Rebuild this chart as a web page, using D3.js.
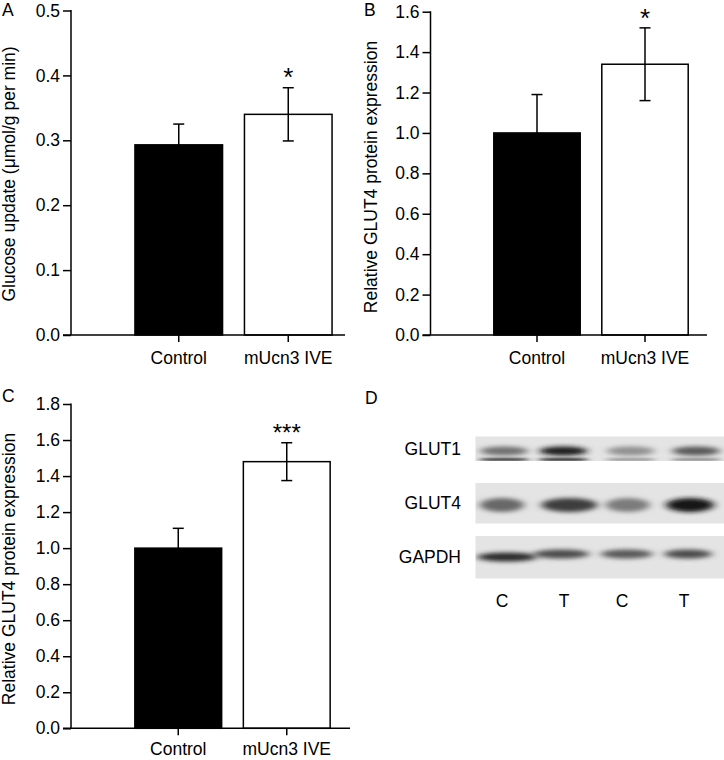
<!DOCTYPE html>
<html>
<head>
<meta charset="utf-8">
<script src="https://cdn.jsdelivr.net/npm/d3@7/dist/d3.min.js"></script>
<style>
  html, body { margin: 0; padding: 0; background: #fff; }
  svg { display: block; font-family: "Liberation Sans", Arial, sans-serif; }
</style>
</head>
<body>
<svg id="chart" width="724" height="760"></svg>
<script>
// ---------- data ----------
const categories = ["Control", "mUcn3 IVE"];

const glucoseMeans = [0.293, 0.340];
const glucoseErrors = [0.032, 0.041];
const glucoseTicks = [0.0, 0.1, 0.2, 0.3, 0.4, 0.5];
const glucoseSig = ["", "*"];

const glut4MeansB = [1.0, 1.34];
const glut4ErrorsB = [0.19, 0.18];
const glut4TicksB = [0.0, 0.2, 0.4, 0.6, 0.8, 1.0, 1.2, 1.4, 1.6];
const glut4SigB = ["", "*"];

const glut4MeansC = [1.0, 1.48];
const glut4ErrorsC = [0.11, 0.105];
const glut4TicksC = [0.0, 0.2, 0.4, 0.6, 0.8, 1.0, 1.2, 1.4, 1.6, 1.8];
const glut4SigC = ["", "***"];

// western blot (panel D): relative band darkness per lane
const blotLanes = ["C", "T", "C", "T"];
const blotProteins = ["GLUT1", "GLUT4", "GAPDH"];
const glut1Upper = [0.5, 0.92, 0.35, 0.62];
const glut1Lower = [0.75, 0.8, 0.3, 0.35];
const glut4Bands = [0.55, 0.75, 0.45, 0.95];
const gapdhBands = [0.85, 0.68, 0.62, 0.68];

// ---------- drawing ----------
const svg = d3.select("#chart");
const FS = 17.5;

function barPanel(cfg) {
  const g = svg.append("g");
  const y = d3.scaleLinear().domain(cfg.domain).range([cfg.y0, cfg.yTop]);
  const x = d3.scaleBand().domain(categories)
    .range(cfg.xRange).paddingInner(0.2).paddingOuter(0.1);

  // bars
  g.selectAll("rect.bar").data(cfg.means).join("rect")
    .attr("x", (d, i) => x(categories[i]))
    .attr("width", x.bandwidth())
    .attr("y", d => y(d))
    .attr("height", d => y(0) - y(d))
    .attr("fill", (d, i) => i === 0 ? "#000" : "#fff")
    .attr("stroke", "#000")
    .attr("stroke-width", 1.5);

  // error bars
  const cap = 5.5;
  cfg.means.forEach((m, i) => {
    const cx = x(categories[i]) + x.bandwidth() / 2;
    const e = cfg.errors[i];
    g.append("line").attr("x1", cx).attr("x2", cx)
      .attr("y1", y(m - e)).attr("y2", y(m + e))
      .attr("stroke", "#000").attr("stroke-width", 1.5);
    [m - e, m + e].forEach(v => {
      g.append("line").attr("x1", cx - cap).attr("x2", cx + cap)
        .attr("y1", y(v)).attr("y2", y(v))
        .attr("stroke", "#000").attr("stroke-width", 1.5);
    });
    if (cfg.sig[i]) {
      g.append("text").attr("x", cx).attr("y", y(m + e) + cfg.sigDy)
        .attr("text-anchor", "middle").attr("font-size", cfg.sigSize)
        .text(cfg.sig[i]);
    }
  });

  // y axis
  const yAxis = d3.axisLeft(y).tickValues(cfg.ticks)
    .tickFormat(d3.format(".1f")).tickSize(8).tickPadding(3);
  const ya = g.append("g").attr("transform", `translate(${cfg.axisX},0)`).call(yAxis);
  ya.select(".domain").remove();
  ya.append("line").attr("x1", 0).attr("x2", 0)
    .attr("y1", y(cfg.domain[1]) - 0.5).attr("y2", y(0))
    .attr("stroke", "#000").attr("stroke-width", 1.5);
  ya.selectAll(".tick line").attr("stroke-width", 1.5);
  ya.selectAll(".tick text").attr("font-size", FS).attr("fill", "#000")
    .attr("font-family", "Liberation Sans, Arial, sans-serif");

  // x axis
  const xAxis = d3.axisBottom(x).tickSize(7).tickPadding(cfg.xPad);
  const xa = g.append("g").attr("transform", `translate(0,${cfg.y0})`).call(xAxis);
  xa.select(".domain").remove();
  xa.append("line").attr("x1", cfg.axisX - 8).attr("x2", cfg.xEnd)
    .attr("y1", 0).attr("y2", 0).attr("stroke", "#000").attr("stroke-width", 1.5);
  xa.selectAll(".tick line").attr("stroke-width", 1.5);
  xa.selectAll(".tick text").attr("font-size", FS).attr("fill", "#000")
    .attr("font-family", "Liberation Sans, Arial, sans-serif");

  // y title
  g.append("text")
    .attr("transform", `translate(${cfg.titleX},${cfg.titleY}) rotate(-90)`)
    .attr("text-anchor", "middle").attr("font-size", FS)
    .text(cfg.title);

  // panel letter
  g.append("text").attr("x", cfg.letterX).attr("y", cfg.letterY)
    .attr("font-size", FS).text(cfg.letter);
}

barPanel({
  means: glucoseMeans, errors: glucoseErrors, ticks: glucoseTicks, sig: glucoseSig,
  domain: [0, 0.5], y0: 335, yTop: 10.5, axisX: 71, xRange: [124, 343], xEnd: 345,
  title: "Glucose update (μmol/g per min)", titleX: 15, titleY: 174,
  letter: "A", letterX: 2, letterY: 16, sigSize: 26, sigDy: -2, xPad: 10
});

barPanel({
  means: glut4MeansB, errors: glut4ErrorsB, ticks: glut4TicksB, sig: glut4SigB,
  domain: [0, 1.6], y0: 335, yTop: 11.7, axisX: 430.5, xRange: [483, 699], xEnd: 707,
  title: "Relative GLUT4 protein expression", titleX: 377, titleY: 177,
  letter: "B", letterX: 364, letterY: 16, sigSize: 26, sigDy: -1, xPad: 10
});

barPanel({
  means: glut4MeansC, errors: glut4ErrorsC, ticks: glut4TicksC, sig: glut4SigC,
  domain: [0, 1.8], y0: 728.3, yTop: 404, axisX: 71, xRange: [124, 341], xEnd: 350,
  title: "Relative GLUT4 protein expression", titleX: 15, titleY: 569,
  letter: "C", letterX: 2, letterY: 402, sigSize: 24, sigDy: -2, xPad: 7.5
});

// ---------- panel D: western blot ----------
const defs = svg.append("defs");
defs.append("filter").attr("id", "blur2").attr("x", "-50%").attr("y", "-100%")
  .attr("width", "200%").attr("height", "300%")
  .append("feGaussianBlur").attr("stdDeviation", "4 2.2");
defs.append("filter").attr("id", "blur1").attr("x", "-50%").attr("y", "-100%")
  .attr("width", "200%").attr("height", "300%")
  .append("feGaussianBlur").attr("stdDeviation", "3 1.2");
const strips = [
  { name: "GLUT1", y0: 436.5, y1: 461 },
  { name: "GLUT4", y0: 483, y1: 523.5 },
  { name: "GAPDH", y0: 536, y1: 578.5 }
];
const stripX0 = 475.5, stripX1 = 724;
const dark = d3.scaleLinear().domain([0, 1]).range(["#d8d8d8", "#0a0a0a"]);
const laneX = d3.scalePoint().domain(d3.range(blotLanes.length)).range([504, 694]);

const dg = svg.append("g");
dg.append("text").attr("x", 365).attr("y", 404).attr("font-size", FS).text("D");

strips.forEach((s, si) => {
  const clipId = "clip" + si;
  defs.append("clipPath").attr("id", clipId).append("rect")
    .attr("x", stripX0).attr("y", s.y0).attr("width", stripX1 - stripX0).attr("height", s.y1 - s.y0);
  dg.append("rect").attr("x", stripX0).attr("y", s.y0)
    .attr("width", stripX1 - stripX0).attr("height", s.y1 - s.y0)
    .attr("fill", "#e4e4e4");
  const bg = dg.append("g").attr("clip-path", `url(#${clipId})`);
  if (s.name === "GLUT1") {
    bg.selectAll("ellipse.u").data(glut1Upper).join("ellipse")
      .attr("cx", (d, i) => laneX(i) + [0, -4, 0, 2][i]).attr("cy", 451)
      .attr("rx", 24).attr("ry", 4.5).attr("fill", d => dark(d)).attr("filter", "url(#blur2)");
    bg.selectAll("ellipse.l").data(glut1Lower).join("ellipse")
      .attr("cx", (d, i) => laneX(i) + [0, -4, 0, 2][i]).attr("cy", 459.5)
      .attr("rx", 26).attr("ry", 1.6).attr("fill", d => dark(d)).attr("filter", "url(#blur1)");
  } else if (s.name === "GLUT4") {
    bg.selectAll("ellipse").data(glut4Bands).join("ellipse")
      .attr("cx", (d, i) => laneX(i) + [-2, 2, -3, -4][i]).attr("cy", 505)
      .attr("rx", (d, i) => [22, 28, 22, 24][i]).attr("ry", 7)
      .attr("fill", d => dark(d)).attr("filter", "url(#blur2)");
  } else {
    bg.selectAll("ellipse").data(gapdhBands).join("ellipse")
      .attr("cx", (d, i) => laneX(i) + [3, -6, -4, -6][i])
      .attr("cy", (d, i) => [557, 554, 554, 554][i])
      .attr("rx", (d, i) => [30, 28, 26, 24][i]).attr("ry", 4.5)
      .attr("fill", d => dark(d)).attr("filter", "url(#blur2)");
  }
  dg.append("text").attr("x", 461).attr("y", (s.y0 + s.y1) / 2 + 6)
    .attr("text-anchor", "end").attr("font-size", FS).text(s.name);
});

dg.selectAll("text.lane").data(blotLanes).join("text")
  .attr("x", (d, i) => [502, 564, 622, 684][i]).attr("y", 607)
  .attr("text-anchor", "middle").attr("font-size", FS).text(d => d);
</script>
</body>
</html>
